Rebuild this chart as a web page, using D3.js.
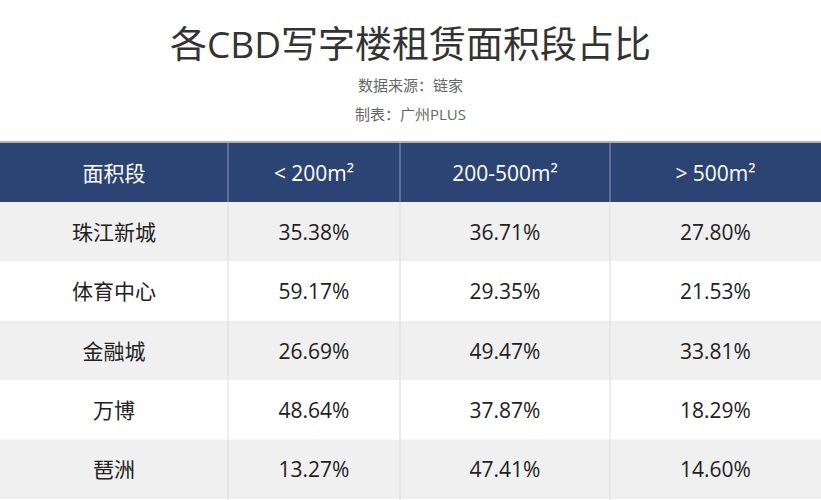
<!DOCTYPE html>
<html><head><meta charset="utf-8">
<script src="https://cdn.jsdelivr.net/npm/d3@7"></script>
<style>body{margin:0;background:#fff;}svg{display:block;font-family:"Open Sans","Noto Sans CJK SC",sans-serif;}</style>
</head><body><div id="frame"></div>
<script>
const width = 821, height = 500;
const title = "各CBD写字楼租赁面积段占比";
const notes = ["数据来源：链家", "制表：广州PLUS"];
const headers = ["面积段", "< 200m²", "200-500m²", "> 500m²"];
const districts = ["珠江新城", "体育中心", "金融城", "万博", "琶洲"];
const small = ["35.38%", "59.17%", "26.69%", "48.64%", "13.27%"];
const mid = ["36.71%", "29.35%", "49.47%", "37.87%", "47.41%"];
const large = ["27.80%", "21.53%", "33.81%", "18.29%", "14.60%"];

const colEdges = [0, 228, 400, 610, 821];
const headTop = 143, headH = 59, rowH = 59.4;

let svg = d3.select("#frame").append("svg").attr("width", width).attr("height", height);

svg.append("text").attr("x", width / 2).attr("y", 58).attr("text-anchor", "middle")
    .style("font-size", "37px").attr("fill", "#333").text(title);
notes.forEach((t, i) => {
    svg.append("text").attr("x", width / 2).attr("y", 91 + i * 29).attr("text-anchor", "middle")
        .style("font-size", "15px").attr("fill", "#666").text(t);
});

svg.append("line").attr("x1", 0).attr("x2", width).attr("y1", headTop - 1).attr("y2", headTop - 1)
    .attr("stroke", "#999").attr("stroke-width", 1.5);
svg.append("rect").attr("x", 0).attr("y", headTop).attr("width", width).attr("height", headH).attr("fill", "#2c4474");

let rows = districts.map((d, i) => [d, small[i], mid[i], large[i]]);
let y = d3.scaleBand().domain(d3.range(rows.length)).range([headTop + headH, headTop + headH + rowH * rows.length]);

svg.selectAll(".row").data(rows).enter().append("rect")
    .attr("x", 0).attr("y", (d, i) => y(i)).attr("width", width).attr("height", y.bandwidth())
    .attr("fill", (d, i) => i % 2 === 0 ? "#f0f0f0" : "#fff");

// column separators
colEdges.slice(1, -1).forEach(x => {
    svg.append("line").attr("x1", x).attr("x2", x).attr("y1", headTop).attr("y2", headTop + headH)
        .attr("stroke", "#8a9abb").attr("stroke-width", 1);
    svg.append("line").attr("x1", x).attr("x2", x).attr("y1", headTop + headH).attr("y2", height)
        .attr("stroke", "#dcdcdc").attr("stroke-width", 1);
});

headers.forEach((h, j) => {
    svg.append("text").attr("x", (colEdges[j] + colEdges[j + 1]) / 2).attr("y", headTop + headH / 2 + 8)
        .attr("text-anchor", "middle").attr("fill", "#fff").style("font-size", "21px").text(h);
});

rows.forEach((r, i) => {
    r.forEach((v, j) => {
        svg.append("text").attr("x", (colEdges[j] + colEdges[j + 1]) / 2).attr("y", y(i) + y.bandwidth() / 2 + 8)
            .attr("text-anchor", "middle").attr("fill", "#222").style("font-size", "21px").text(v);
    });
});
</script></body></html>
